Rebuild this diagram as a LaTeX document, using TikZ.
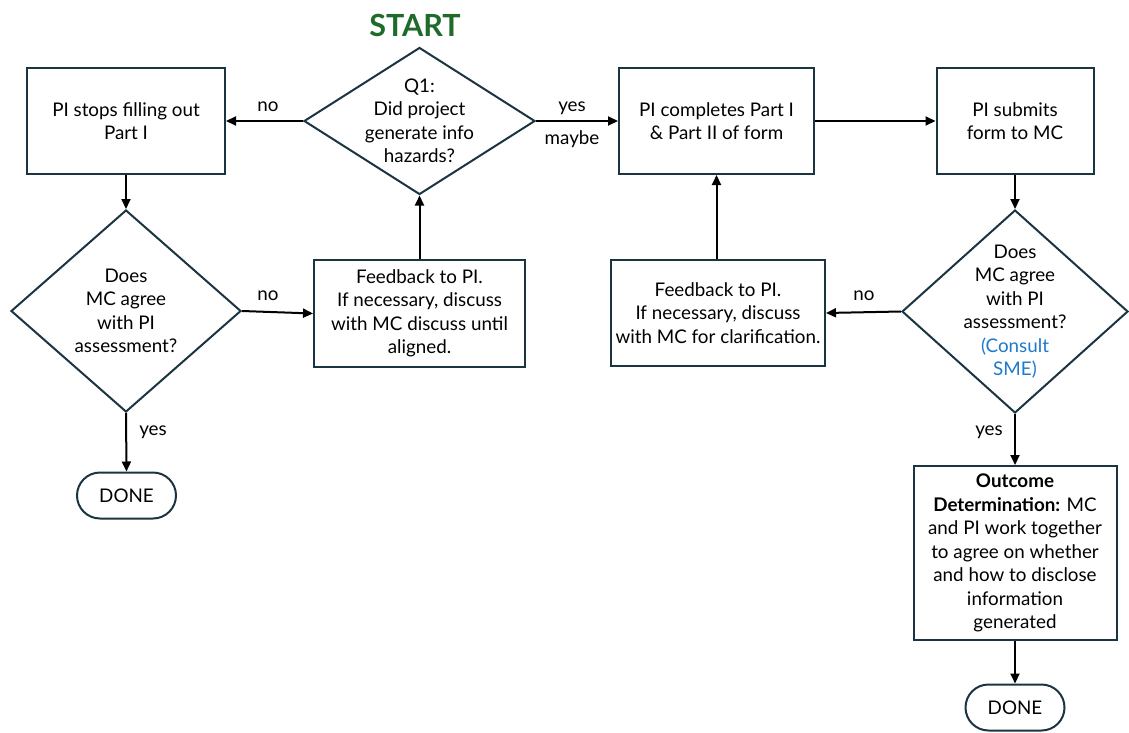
\documentclass[tikz,border=0pt]{standalone}
\usepackage{fontspec}
\setmainfont{Lato}
\usetikzlibrary{shapes.geometric,shapes.misc,arrows.meta}
\definecolor{edge}{HTML}{1B3442}
\definecolor{startgreen}{HTML}{1E6B2C}
\definecolor{noteblue}{HTML}{1F7ACC}
\begin{document}
\begin{tikzpicture}[x=1pt,y=-1pt,
  font=\fontsize{18.8}{23.5}\selectfont,
  box/.style={draw=edge, line width=2pt, fill=white, align=center, inner sep=0pt},
  decision/.style={diamond, draw=edge, line width=2pt, fill=white, align=center, inner sep=-30pt},
  terminal/.style={rounded rectangle, draw=edge, line width=2pt, fill=white,
    minimum width=99pt, minimum height=46pt, inner sep=0pt},
  flow/.style={-{Triangle[length=10pt,width=9pt]}, line width=2pt},
  tag/.style={inner sep=0pt}]
\useasboundingbox (0,0) rectangle (1129,733);

% top row
\node[tag, font=\fontsize{30.5}{32}\selectfont\bfseries, text=startgreen] (start) at (415,25) {START};
\node[box, minimum width=198pt, minimum height=106pt] (stops) at (126,121)
  {PI stops filling out\\Part I};
\node[decision, minimum width=231pt, minimum height=147pt] (q1) at (419.5,121)
  {Q1:\\Did project\\generate info\\hazards?};
\node[box, minimum width=195pt, minimum height=106pt] (complete) at (716.5,121)
  {PI completes Part I\\\& Part II of form};
\node[box, minimum width=157pt, minimum height=106pt] (submit) at (1015,121)
  {PI submits\\form to MC};

% middle row
\node[decision, minimum width=230pt, minimum height=202pt] (check1) at (126,311)
  {Does\\MC agree\\with PI\\assessment?};
\node[box, minimum width=211pt, minimum height=107pt] (fb1) at (419.5,313.5)
  {Feedback to PI.\\If necessary, discuss\\with MC discuss until\\aligned.};
\node[box, minimum width=214pt, minimum height=106pt] (fb2) at (718,313)
  {Feedback to PI.\\If necessary, discuss\\with MC for clarification.};
\node[decision, minimum width=226pt, minimum height=203pt] (check2) at (1015,311.5)
  {Does\\MC agree\\with PI\\assessment?\\\textcolor{noteblue}{(Consult}\\\textcolor{noteblue}{SME)}};

% bottom row
\node[terminal] (done1) at (126.5,495.5) {DONE};
\node[box, minimum width=203pt, minimum height=174pt] (outcome) at (1015,553)
  {\textbf{Outcome}\\\textbf{Determination:} MC\\and PI work together\\to agree on whether\\and how to disclose\\information\\generated};
\node[terminal] (done2) at (1015,707.5) {DONE};

% connectors
\draw[flow] (q1.west) -- (stops.east);
\draw[flow] (q1.east) -- (complete.west);
\draw[flow] (complete.east) -- (submit.west);
\draw[flow] (stops.south) -- (check1.north);
\draw[flow] (check1.east) -- (fb1.west);
\draw[flow] (fb1.north) -- (q1.south);
\draw[flow] (check1.south) -- (done1.north);
\draw[flow] (submit.south) -- (check2.north);
\draw[flow] (check2.west) -- (fb2.east);
\draw[flow] (complete.south |- fb2.north) -- (complete.south);
\draw[flow] (check2.south) -- (outcome.north);
\draw[flow] (outcome.south) -- (done2.north);

% branch labels
\node[tag] (l1) at (268,107) {no};
\node[tag] (l2) at (572,108) {yes};
\node[tag] (l3) at (572,139) {maybe};
\node[tag] (l4) at (268,296) {no};
\node[tag] (l5) at (153,432) {yes};
\node[tag] (l6) at (864,296) {no};
\node[tag] (l7) at (989,432) {yes};
\end{tikzpicture}
\end{document}
